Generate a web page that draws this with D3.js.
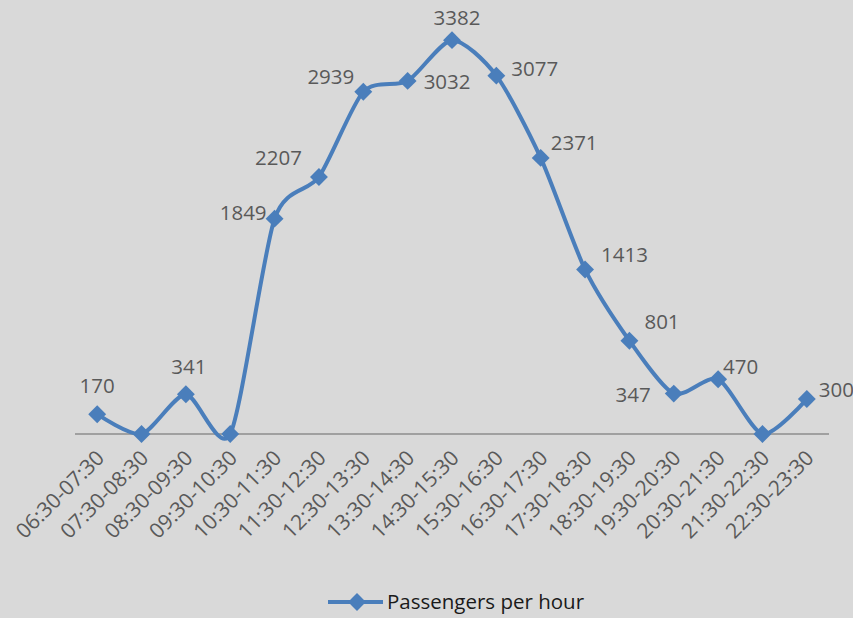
<!DOCTYPE html>
<html>
<head>
<meta charset="utf-8">
<script src="https://cdn.jsdelivr.net/npm/d3@7"></script>
<style>
  body { margin: 0; background: #d9d9d9; }
  svg { display: block; font-family: "Open Sans", "Liberation Sans", sans-serif; }
</style>
</head>
<body>
<div id="chart"></div>
<script>
const categories = ["06:30-07:30", "07:30-08:30", "08:30-09:30", "09:30-10:30", "10:30-11:30",
    "11:30-12:30", "12:30-13:30", "13:30-14:30", "14:30-15:30", "15:30-16:30", "16:30-17:30",
    "17:30-18:30", "18:30-19:30", "19:30-20:30", "20:30-21:30", "21:30-22:30", "22:30-23:30"];
const passengers = [170, 0, 341, 0, 1849, 2207, 2939, 3032, 3382, 3077, 2371, 1413, 801, 347, 470, 0, 300];
const seriesName = "Passengers per hour";

// label placement next to each marker: [dx, dy, anchor], null = no label
const labelPlace = [
    [0, -28, "middle"], null, [3, -27, "middle"], null, [-8, -6, "end"],
    [-17, -19, "end"], [-9, -15, "end"], [16, 1, "start"], [5, -22, "middle"],
    [15, -7, "start"], [10, -15, "start"], [16, -15, "start"], [15, -19, "start"],
    [-23, 1, "end"], [5, -12, "start"], null, [12, -9, "start"]
];

const width = 853, height = 618;
const color = "#4a7ebb";

const svg = d3.select("#chart").append("svg")
    .attr("width", width)
    .attr("height", height);

svg.append("rect").attr("width", width).attr("height", height).attr("fill", "#d9d9d9");

const x = d3.scaleBand()
    .domain(categories)
    .range([75, 829]);

const y = d3.scaleLinear()
    .domain([0, 3500])
    .range([434, 26.4]);

const px = d => x(d) + x.bandwidth() / 2;

// category axis line
svg.append("line")
    .attr("x1", 75).attr("x2", 829)
    .attr("y1", y(0)).attr("y2", y(0))
    .attr("stroke", "#8c8c8c")
    .attr("stroke-width", 1.5);

// tick labels
svg.append("g").selectAll("text")
    .data(categories)
    .enter()
    .append("text")
    .attr("transform", d => `translate(${px(d) + 3},${y(0) + 20}) rotate(-45)`)
    .attr("text-anchor", "end")
    .attr("dy", "0.35em")
    .style("font-size", "21px")
    .attr("fill", "#595959")
    .text(d => d);

const data = categories.map((c, i) => ({ cat: c, value: passengers[i], place: labelPlace[i] }));

const line = d3.line()
    .x(d => px(d.cat))
    .y(d => y(d.value))
    .curve(d3.curveCardinal.tension(0.25));

svg.append("path")
    .datum(data)
    .attr("d", line)
    .attr("fill", "none")
    .attr("stroke", color)
    .attr("stroke-width", 4)
    .attr("stroke-linejoin", "round");

const diamond = d3.symbol().type(d3.symbolSquare).size(160);

svg.append("g").selectAll("path")
    .data(data)
    .enter()
    .append("path")
    .attr("d", diamond)
    .attr("transform", d => `translate(${px(d.cat)},${y(d.value)}) rotate(45)`)
    .attr("fill", color);

// data labels
svg.append("g").selectAll("text")
    .data(data.filter(d => d.place))
    .enter()
    .append("text")
    .attr("x", d => px(d.cat) + d.place[0])
    .attr("y", d => y(d.value) + d.place[1])
    .attr("dy", "0.35em")
    .attr("text-anchor", d => d.place[2])
    .style("font-size", "20.5px")
    .attr("fill", "#595959")
    .text(d => d.value);

// legend
const legend = svg.append("g").attr("transform", "translate(328,602)");
legend.append("line")
    .attr("x1", 0).attr("x2", 55)
    .attr("stroke", color)
    .attr("stroke-width", 4);
legend.append("path")
    .attr("d", diamond)
    .attr("transform", "translate(29,0) rotate(45)")
    .attr("fill", color);
legend.append("text")
    .attr("x", 59)
    .attr("y", 0)
    .attr("dy", "0.35em")
    .style("font-size", "20.5px")
    .attr("fill", "#1a1a1a")
    .text(seriesName);
</script>
</body>
</html>
